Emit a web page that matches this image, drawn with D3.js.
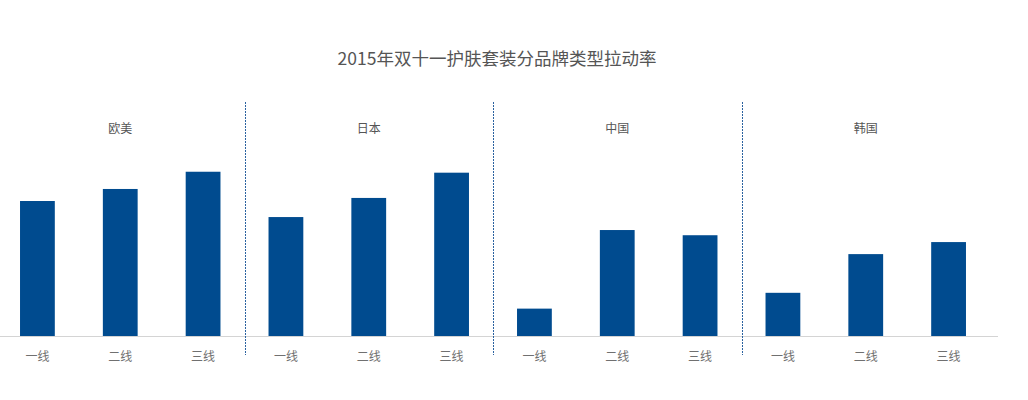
<!DOCTYPE html>
<html>
<head>
<meta charset="utf-8">
<script src="https://cdn.jsdelivr.net/npm/d3@7"></script>
<style>
	body { margin: 0; background: #fff; }
	text { font-family: "Noto Sans CJK SC", "Microsoft YaHei", sans-serif; }
</style>
</head>
<body>
<div class="chart"></div>
<script>
// 品牌类型 与 城市等级
const groups = ['欧美', '日本', '中国', '韩国'];
const tiers = ['一线', '二线', '三线'];
// 拉动率 (%)，按 groups 顺序，每组 一线/二线/三线
const eu = [57.2, 62.3, 69.6];
const jp = [50.4, 58.5, 69.2];
const cn = [11.6, 44.9, 42.7];
const kr = [18.3, 34.7, 39.8];
const seriesValues = [eu, jp, cn, kr];

const title = '2015年双十一护肤套装分品牌类型拉动率';

drawGroupedBars('.chart', 1028, 400);

function drawGroupedBars(sel, width, height) {
	const baseY = 336;
	const topY = 100;

	const svg = d3.select(sel)
	.append('svg')
	.attr('width', width)
	.attr('height', height);

	const x0 = d3.scaleBand()
	.domain(groups)
	.range([-4, 990]);

	const x1 = d3.scaleBand()
	.domain(tiers)
	.range([0, x0.bandwidth()])
	.paddingInner(0.58)
	.paddingOuter(0.29);

	const y = d3.scaleLinear()
	.domain([0, 100])
	.range([baseY, topY]);

	svg.append('text')
	.attr('x', 497)
	.attr('y', 65)
	.attr('text-anchor', 'middle')
	.attr('font-size', '17.5px')
	.attr('fill', '#555')
	.text(title);

	// baseline
	svg.append('line')
	.attr('x1', 0)
	.attr('x2', 998)
	.attr('y1', baseY + 0.5)
	.attr('y2', baseY + 0.5)
	.attr('stroke', '#d4d4d4')
	.attr('stroke-width', 1);

	const g = svg.selectAll('g.group')
	.data(groups)
	.enter().append('g')
	.attr('class', 'group')
	.attr('transform', d => `translate(${x0(d)},0)`);

	g.append('text')
	.attr('x', x0.bandwidth() / 2)
	.attr('y', 133)
	.attr('text-anchor', 'middle')
	.attr('font-size', '12px')
	.attr('fill', '#555')
	.text(d => d);

	g.selectAll('rect')
	.data((d, i) => seriesValues[i].map((v, j) => ({ tier: tiers[j], value: v })))
	.enter().append('rect')
	.attr('x', d => x1(d.tier))
	.attr('width', x1.bandwidth())
	.attr('y', d => y(d.value))
	.attr('height', d => baseY - y(d.value))
	.attr('fill', '#004b8f');

	g.selectAll('text.tick')
	.data(tiers)
	.enter().append('text')
	.attr('class', 'tick')
	.attr('x', d => x1(d) + x1.bandwidth() / 2)
	.attr('y', 361)
	.attr('text-anchor', 'middle')
	.attr('font-size', '12px')
	.attr('fill', '#707070')
	.text(d => d);

	// dividers between groups
	svg.selectAll('line.divider')
	.data(groups.slice(1))
	.enter().append('line')
	.attr('class', 'divider')
	.attr('x1', d => Math.round(x0(d)) + 0.5)
	.attr('x2', d => Math.round(x0(d)) + 0.5)
	.attr('y1', 102)
	.attr('y2', 355)
	.attr('stroke', '#2b62a0')
	.attr('stroke-width', 1)
	.attr('stroke-dasharray', '2,1');
}
</script>
</body>
</html>
